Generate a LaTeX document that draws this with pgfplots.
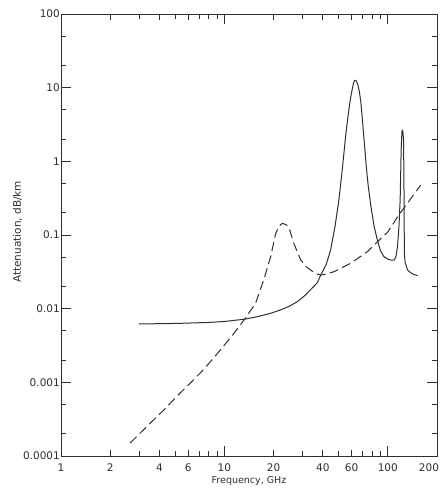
\documentclass[border=0pt]{standalone}
\usepackage{fontspec}
\setmainfont{DejaVu Sans}
\usepackage{pgfplots}
\usepackage{pgfplotstable}
\pgfplotsset{compat=1.18}
\definecolor{ink}{HTML}{2E2E2E}
\pgfplotstableread{
f a
3 0.0062
5 0.0063
8 0.0065
10 0.0067
13.3 0.0072
16 0.0078
19 0.0086
22 0.0096
25 0.0108
28 0.0125
31 0.015
34 0.0185
37 0.0225
39 0.029
42 0.040
44.7 0.063
47.5 0.13
50 0.28
52 0.6
53.7 1.2
55.2 2.2
57 4
59 7
60.8 10
62 12
62.8 12.6
63.6 12.6
64.4 12.1
65.5 11
67 8.8
68.3 6.5
69.5 4.3
70.8 2.6
72.3 1.5
74 0.8
76 0.45
78.7 0.25
82.5 0.13
86.8 0.081
90 0.062
94.5 0.051
100 0.047
105 0.0455
109 0.0455
112 0.05
114.6 0.0695
117 0.13
119 0.30
120.7 1.43
122 2.5
122.6 2.66
123.6 2.55
124.8 2.0
125.5 0.6
126 0.12
126.4 0.055
127.5 0.043
132 0.0335
140 0.030
152 0.028
}\oxygen
\pgfplotstableread{
f a
2.65 0.00015
3.52 0.00028
4.3 0.00043
5.13 0.00065
6.1 0.00095
7.12 0.00134
8.2 0.0019
9.45 0.00275
11.5 0.0047
13.3 0.0072
15.5 0.0118
17.4 0.0245
19.2 0.051
20.6 0.105
21.6 0.132
22.6 0.144
23.7 0.139
24.8 0.128
26.6 0.077
29.3 0.0458
31.8 0.0368
33.7 0.0335
36 0.030
38.8 0.0286
42 0.0295
46.9 0.0318
59.3 0.0413
75 0.0594
86.5 0.081
100 0.11
116.8 0.187
135 0.29
159 0.477
}\water
\begin{document}
\begin{tikzpicture}
\begin{axis}[
  xmode=log, ymode=log,
  scale only axis, width=376pt, height=442pt,
  xmin=1, xmax=200, ymin=0.0001, ymax=100,
  axis line style={ink, line width=0.8pt},
  tick style={ink, line width=0.7pt},
  tick align=inside,
  xtick={1,10,100}, xticklabels={1,10,100},
  extra x ticks={2,4,6,20,40,60,200},
  extra x tick labels={2,4,6,20,40,60,\makebox[0pt][r]{200\kern-2pt}},
  extra x tick style={major tick length=6pt},
  minor xtick={3,5,7,8,9,30,50,70,80,90},
  ytick={0.0001,0.001,0.01,0.1,1,10,100},
  yticklabels={0.0001,0.001,0.01,0.1,1,10,100},
  minor ytick={0.0002,0.0005,0.002,0.005,0.02,0.05,0.2,0.5,2,5,20,50},
  major tick length=10pt, minor tick length=5pt,
  tick label style={font=\fontsize{10.5}{12}\selectfont, text=ink},
  xticklabel style={anchor=center, yshift=-11.3pt},
  yticklabel style={anchor=east, inner sep=1pt},
  xlabel={Frequency, GHz},
  ylabel={Attenuation, dB/km},
  xlabel style={at={(axis description cs:0.5,-0.0566)}, anchor=center, font=\fontsize{9.5}{11}\selectfont, text=ink},
  ylabel style={at={(axis description cs:-0.1157,0.507)}, anchor=center, font=\fontsize{10.5}{12}\selectfont, text=ink},
]
\addplot[ink, line width=1pt, line join=round] table[x=f, y=a] {\oxygen};
\addplot[ink, line width=1pt, dash pattern=on 9pt off 4.5pt] table[x=f, y=a] {\water};
\coordinate (bl) at (rel axis cs:0,0);
\coordinate (tr) at (rel axis cs:1,1);
\end{axis}
\pgfresetboundingbox
\path[use as bounding box] ([xshift=-61pt,yshift=-32pt]bl) rectangle ([xshift=4pt,yshift=14pt]tr);
\end{tikzpicture}
\end{document}
